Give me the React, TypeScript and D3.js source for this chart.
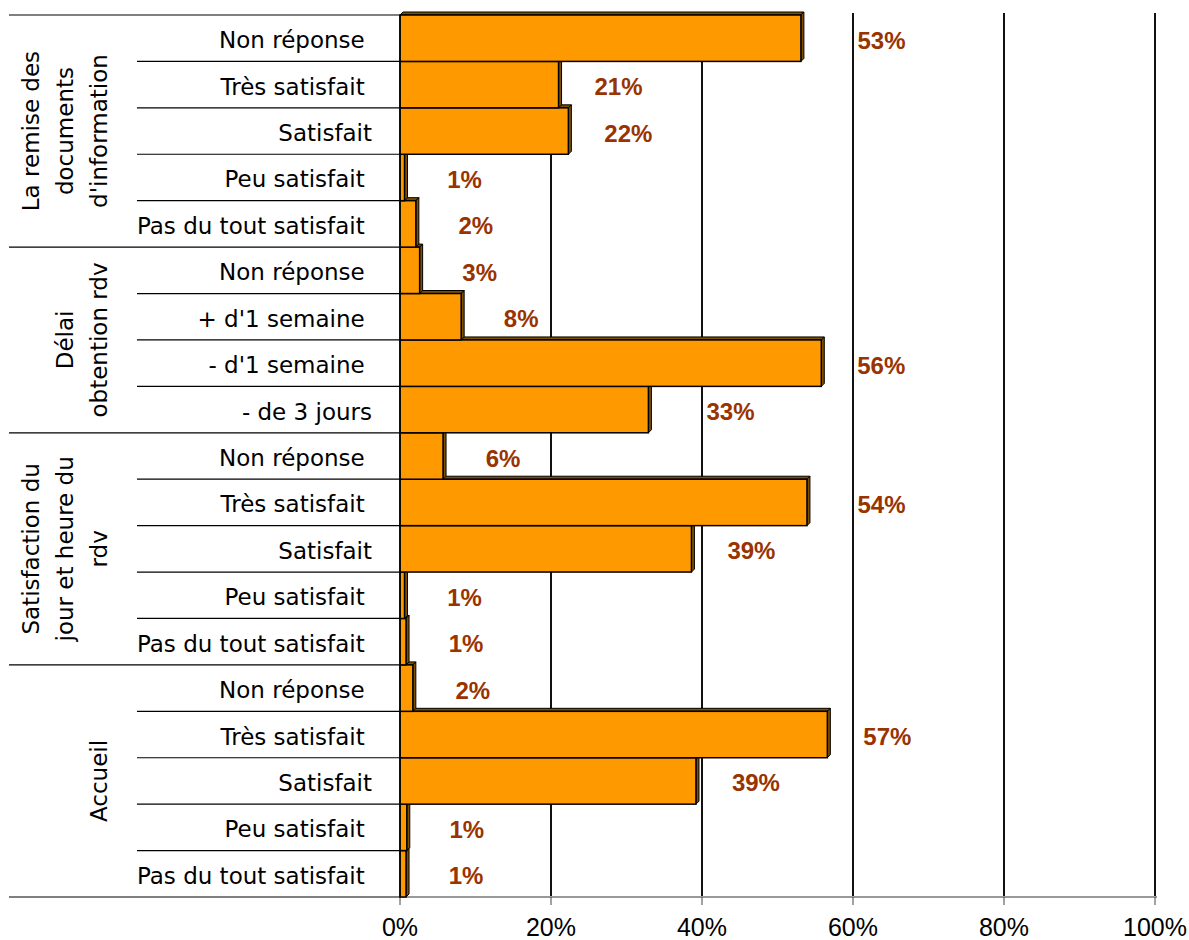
import React from "react";
import * as d3 from "d3";

const categories = [
  "Non réponse ", "Très satisfait ", "Satisfait", "Peu satisfait ", "Pas du tout satisfait ",
  "Non réponse ", "+ d'1 semaine ", "- d'1 semaine ", "- de 3 jours",
  "Non réponse ", "Très satisfait ", "Satisfait", "Peu satisfait ", "Pas du tout satisfait ",
  "Non réponse ", "Très satisfait ", "Satisfait", "Peu satisfait ", "Pas du tout satisfait ",
];
const values = [
  53.1, 21.0, 22.3, 0.6, 2.1,
  2.6, 8.1, 55.8, 32.9,
  5.7, 53.9, 38.6, 0.6, 0.8,
  1.7, 56.6, 39.2, 0.9, 0.8,
];
const groupLabels = [
  ["La remise des", "documents", "d'information"],
  ["Délai", "obtention rdv"],
  ["Satisfaction du", "jour et heure du", "rdv"],
  ["Accueil"],
];
const groupSizes = [5, 4, 5, 5];
const tickValues = [0, 20, 40, 60, 80, 100];

const W = 1189, H = 940;
const M = { left: 400, right: 1155, top: 15, bottom: 897 };
const DEPTH = 3;
const CAT_FONT = "'Comic Sans MS', 'DejaVu Sans', sans-serif";

export default function App() {
  const x = d3.scaleLinear().domain([0, 100]).range([M.left, M.right]);
  const idx = categories.map((_, i) => i);
  const y = d3.scaleBand<number>().domain(idx).range([M.top, M.bottom]).padding(0);
  const bw = y.bandwidth();

  const starts: number[] = [];
  let acc = 0;
  groupSizes.forEach((s) => { starts.push(acc); acc += s; });

  const drawOrder = [...idx].reverse();

  // label placement: right of bar end, nudged past any gridline it would overlap
  const labelX = (v: number) => {
    const txt = Math.round(v) + "%";
    const w = txt.length * 13 + 2;
    let left = x(v) + 60 - w / 2;
    tickValues.slice(1).forEach((t) => {
      const gx = x(t);
      if (left < gx + 6 && left + w > gx - 6) left = gx + 8;
    });
    return left + w / 2;
  };

  return (
    <svg width={W} height={H} style={{ position: "absolute", left: 0, top: 0, background: "#fff" }}>
      {tickValues.slice(1).map((t) => (
        <line key={"g" + t} x1={x(t)} x2={x(t)} y1={M.top - 2} y2={M.bottom} stroke="#111" strokeWidth={2} />
      ))}
      <line x1={M.left} x2={M.right + 2} y1={M.bottom} y2={M.bottom} stroke="#999" strokeWidth={2} />
      {tickValues.map((t) => (
        <line key={"t" + t} x1={x(t)} x2={x(t)} y1={M.bottom} y2={M.bottom + 8} stroke="#444" strokeWidth={1} />
      ))}
      {tickValues.map((t) => (
        <text key={"tl" + t} x={x(t)} y={936} textAnchor="middle" fontFamily="'Liberation Sans', Arial, sans-serif" fontSize={25} fill="#000">
          {t + "%"}
        </text>
      ))}
      {idx.slice(1).map((i) => {
        const isGroup = starts.includes(i);
        return (
          <line key={"s" + i} x1={isGroup ? 9 : 137} x2={M.left} y1={y(i)!} y2={y(i)!} stroke="#000" strokeWidth={1.2} />
        );
      })}
      <line x1={9} x2={M.left} y1={M.top} y2={M.top} stroke="#000" strokeWidth={1.2} />
      <line x1={9} x2={M.left} y1={M.bottom} y2={M.bottom} stroke="#000" strokeWidth={1.2} />
      {drawOrder.map((i) => {
        const x0 = x(0), x1 = x(values[i]);
        const y0 = y(i)!, y1 = y0 + bw;
        return (
          <g key={"b" + i}>
            <polygon
              points={`${x0},${y0} ${x0 + DEPTH},${y0 - DEPTH} ${x1 + DEPTH},${y0 - DEPTH} ${x1},${y0}`}
              fill="#7f4f00" stroke="#000" strokeWidth={1} strokeLinejoin="round"
            />
            <polygon
              points={`${x1},${y0} ${x1 + DEPTH},${y0 - DEPTH} ${x1 + DEPTH},${y1 - DEPTH} ${x1},${y1}`}
              fill="#7f4f00" stroke="#000" strokeWidth={1} strokeLinejoin="round"
            />
            <rect x={x0} y={y0} width={x1 - x0} height={bw} fill="#FF9900" stroke="#000" strokeWidth={1.5} />
          </g>
        );
      })}
      <line x1={M.left} x2={M.left} y1={M.top} y2={M.bottom} stroke="#000" strokeWidth={1.5} />
      {idx.map((i) => (
        <text key={"dl" + i} x={labelX(values[i])} y={y(i)! + bw / 2 + 2} textAnchor="middle" dominantBaseline="central"
          fontFamily="'Liberation Sans', Arial, sans-serif" fontWeight="bold" fontSize={24} fill="#993300">
          {Math.round(values[i]) + "%"}
        </text>
      ))}
      {idx.map((i) => (
        <text key={"cl" + i} x={372} y={y(i)! + bw / 2 + 2} textAnchor="end" dominantBaseline="central"
          fontFamily={CAT_FONT} fontSize={23} fill="#000" style={{ whiteSpace: "pre" }}>
          {categories[i]}
        </text>
      ))}
      {groupLabels.map((lines, g) => {
        const yTop = y(starts[g])!;
        const yBot = y(starts[g] + groupSizes[g] - 1)! + bw;
        const cy = (yTop + yBot) / 2;
        const spacing = 34;
        const lastX = 99;
        const firstX = lastX - spacing * (lines.length - 1);
        return (
          <text key={"gl" + g} transform={`translate(${firstX},${cy}) rotate(-90)`} textAnchor="middle"
            dominantBaseline="central" fontFamily={CAT_FONT} fontSize={23} fill="#000">
            {lines.map((l, k) => (
              <tspan key={k} x={0} y={k * spacing}>{l}</tspan>
            ))}
          </text>
        );
      })}
    </svg>
  );
}
